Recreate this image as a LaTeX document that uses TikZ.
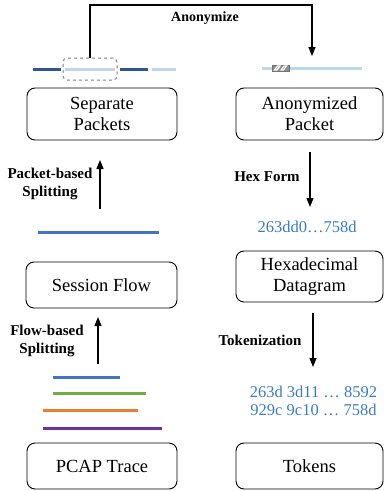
\documentclass[tikz,border=0pt]{standalone}
\usepackage{fontspec}
\setmainfont{Liberation Serif}
\usetikzlibrary{arrows.meta}
\definecolor{darkblue}{HTML}{2F5597}
\definecolor{lightblue}{HTML}{BDD7EE}
\definecolor{midblue}{HTML}{4472C4}
\definecolor{pgreen}{HTML}{70AD47}
\definecolor{porange}{HTML}{ED7D31}
\definecolor{ppurple}{HTML}{7030A0}
\definecolor{hextext}{HTML}{3A7BC8}
\definecolor{dashgray}{HTML}{7F7F7F}
\tikzset{
  box/.style={draw, line width=0.9pt, rounded corners=8pt, inner sep=0pt, align=center,
    font=\fontsize{18.5}{21}\selectfont},
  lbl/.style={font=\fontsize{15}{18}\selectfont\bfseries, align=center, inner sep=0pt},
  hex/.style={text=hextext, font=\fontsize{16.5}{18.5}\selectfont, align=center, inner sep=0pt},
  flowarrow/.style={line width=1.2pt, -{Triangle[length=9pt,width=7pt]}},
  pkt/.style={line width=3pt},
}
\begin{document}
\begin{tikzpicture}[x=1pt,y=-1pt]
\useasboundingbox (0,0) rectangle (384,491);
% left column boxes
\node[box, minimum width=150pt, minimum height=52pt] (sep) at (102,114) {Separate\\Packets};
\node[box, minimum width=151pt, minimum height=46pt] (sess) at (101.5,285) {Session Flow};
\node[box, minimum width=150pt, minimum height=46pt] (pcap) at (102,466) {PCAP Trace};
% right column boxes
\node[box, minimum width=147pt, minimum height=52pt] (anon) at (309.5,114) {Anonymized\\Packet};
\node[box, minimum width=147pt, minimum height=51pt] (hexd) at (309.5,276.5) {Hexadecimal\\Datagram};
\node[box, minimum width=147pt, minimum height=46pt] (tok) at (309.5,466) {Tokens};
% separate packets lines
\draw[pkt, darkblue] (33,69) -- (61,69);
\draw[pkt, lightblue] (65,69) -- (115,69);
\draw[pkt, darkblue] (120,69) -- (148,69);
\draw[pkt, lightblue] (152,69) -- (176,69);
\node[draw=dashgray, dashed, line width=1pt, rounded corners=4pt, minimum width=54pt, minimum height=22pt, inner sep=0pt] (dsel) at (90,69) {};
% anonymized packet line
\draw[pkt, lightblue] (262,68) -- (362,68);
\node[fill=gray!90, draw=gray!90!black, minimum width=17pt, minimum height=5.5pt, inner sep=0pt] (icon) at (280.5,68) {};
\draw[white, line width=1.2pt] (274.5,70) -- (277.5,66) -- (280,66) -- (277,70) -- cycle;
\draw[white, line width=1.2pt] (281,70) -- (284,66) -- (286.5,66) -- (283.5,70) -- cycle;
% anonymize connector
\coordinate (anonin) at (312,56);
\draw[line width=1.2pt, -{Triangle[length=9pt,width=7pt]}] (dsel.north) -- (90,5) -| (anonin);
\node[font=\fontsize{14}{16}\selectfont\bfseries, inner sep=0pt] (anonlbl) at (205,18) {Anonymize};
% session flow line
\draw[pkt, midblue] (38,232) -- (159,232);
% packet-based splitting
\coordinate (pa1) at (100,209);
\coordinate (pa2) at (100,160);
\draw[flowarrow] (pa1) -- (pa2);
\node[lbl] (pblbl) at (50,184) {Packet-based\\Splitting};
% pcap lines
\draw[pkt, midblue] (53,377) -- (120,377);
\draw[pkt, pgreen] (53,393) -- (146,393);
\draw[pkt, porange] (43,410) -- (138,410);
\draw[pkt, ppurple] (43,428) -- (162,428);
% flow-based splitting
\coordinate (fa1) at (98,364);
\coordinate (fa2) at (98,317);
\draw[flowarrow] (fa1) -- (fa2);
\node[lbl] (fblbl) at (47,341) {Flow-based\\Splitting};
% hex form
\coordinate (ha1) at (310,152);
\coordinate (ha2) at (310,207);
\draw[flowarrow] (ha1) -- (ha2);
\node[lbl] (hflbl) at (267,177) {Hex Form};
\node[hex] (hexstr) at (307,227) {263dd0…758d};
% tokenization
\coordinate (ta1) at (313,313);
\coordinate (ta2) at (313,367);
\draw[flowarrow] (ta1) -- (ta2);
\node[lbl] (tklbl) at (260,340) {Tokenization};
\node[hex] (tokstr) at (313.5,401) {263d 3d11 … 8592\\929c 9c10 … 758d};
\end{tikzpicture}
\end{document}
